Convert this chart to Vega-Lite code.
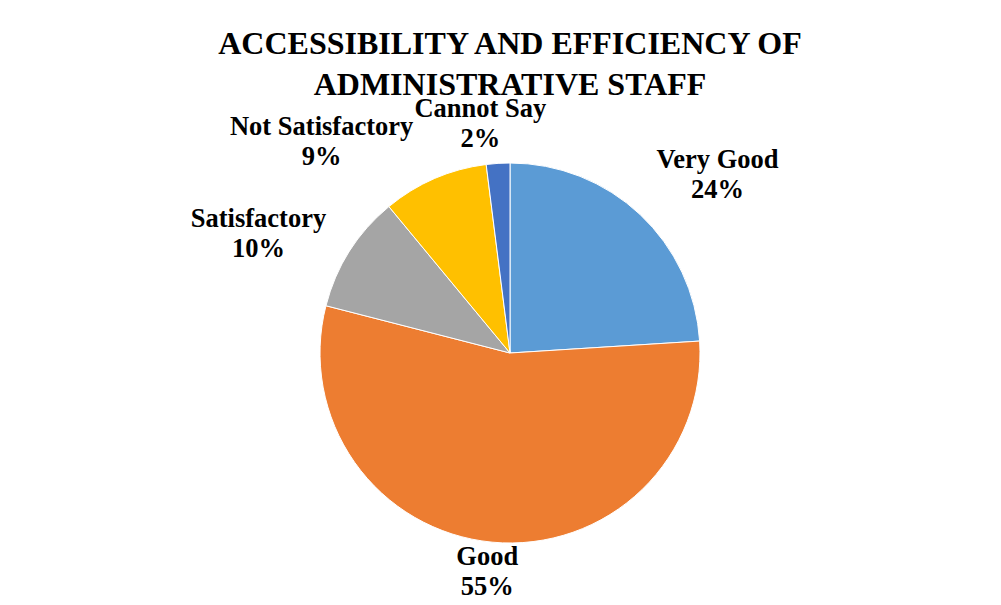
{
  "$schema": "https://vega.github.io/schema/vega-lite/v6.json",
  "width": 982,
  "height": 504,
  "autosize": {"type": "none"},
  "padding": {"left": 19, "top": 101, "right": 0, "bottom": 0},
  "background": "white",
  "title": {
    "text": ["ACCESSIBILITY AND EFFICIENCY OF", "ADMINISTRATIVE STAFF"],
    "font": "Liberation Serif",
    "fontSize": 32,
    "fontWeight": "bold",
    "lineHeight": 41,
    "color": "black",
    "anchor": "middle",
    "frame": "group",
    "offset": -28
  },
  "config": {
    "view": {"stroke": null},
    "text": {"lineBreak": "\n"}
  },
  "data": {
    "values": [
      {"label": "Very Good", "value": 24, "o": 1, "txt": "Very Good\n24%"},
      {"label": "Good", "value": 55, "o": 2, "txt": "Good\n55%"},
      {"label": "Satisfactory", "value": 10, "o": 3, "txt": "Satisfactory\n10%"},
      {"label": "Not Satisfactory", "value": 9, "o": 4, "txt": "Not Satisfactory\n9%"},
      {"label": "Cannot Say", "value": 2, "o": 5, "txt": "Cannot Say\n2%"}
    ]
  },
  "encoding": {
    "theta": {"field": "value", "type": "quantitative", "stack": true},
    "order": {"field": "o", "type": "quantitative"}
  },
  "layer": [
    {
      "mark": {"type": "arc", "radius": 190, "stroke": "white", "strokeWidth": 1},
      "encoding": {
        "color": {
          "field": "label",
          "type": "nominal",
          "scale": {
            "domain": ["Very Good", "Good", "Satisfactory", "Not Satisfactory", "Cannot Say"],
            "range": ["#5B9BD5", "#ED7D31", "#A5A5A5", "#FFC000", "#4472C4"]
          },
          "legend": null
        }
      }
    },
    {
      "mark": {"type": "text", "radius": 274, "dx": 20, "dy": 7, "font": "Liberation Serif", "fontSize": 26.5, "fontWeight": "bold", "lineHeight": 30, "align": "center", "baseline": "middle", "color": "black"},
      "encoding": {"text": {"condition": {"test": "datum.label === 'Very Good'", "field": "txt"}, "value": ""}}
    },
    {
      "mark": {"type": "text", "radius": 220, "dx": -2, "dy": -15, "font": "Liberation Serif", "fontSize": 26.5, "fontWeight": "bold", "lineHeight": 30, "align": "center", "baseline": "middle", "color": "black"},
      "encoding": {"text": {"condition": {"test": "datum.label === 'Good'", "field": "txt"}, "value": ""}}
    },
    {
      "mark": {"type": "text", "radius": 279, "dx": -16, "dy": 15, "font": "Liberation Serif", "fontSize": 26.5, "fontWeight": "bold", "lineHeight": 30, "align": "center", "baseline": "middle", "color": "black"},
      "encoding": {"text": {"condition": {"test": "datum.label === 'Satisfactory'", "field": "txt"}, "value": ""}}
    },
    {
      "mark": {"type": "text", "radius": 283, "dx": -76, "dy": 34, "font": "Liberation Serif", "fontSize": 26.5, "fontWeight": "bold", "lineHeight": 30, "align": "center", "baseline": "middle", "color": "black"},
      "encoding": {"text": {"condition": {"test": "datum.label === 'Not Satisfactory'", "field": "txt"}, "value": ""}}
    },
    {
      "mark": {"type": "text", "radius": 233, "dx": -15, "dy": -11, "font": "Liberation Serif", "fontSize": 26.5, "fontWeight": "bold", "lineHeight": 30, "align": "center", "baseline": "middle", "color": "black"},
      "encoding": {"text": {"condition": {"test": "datum.label === 'Cannot Say'", "field": "txt"}, "value": ""}}
    }
  ]
}
